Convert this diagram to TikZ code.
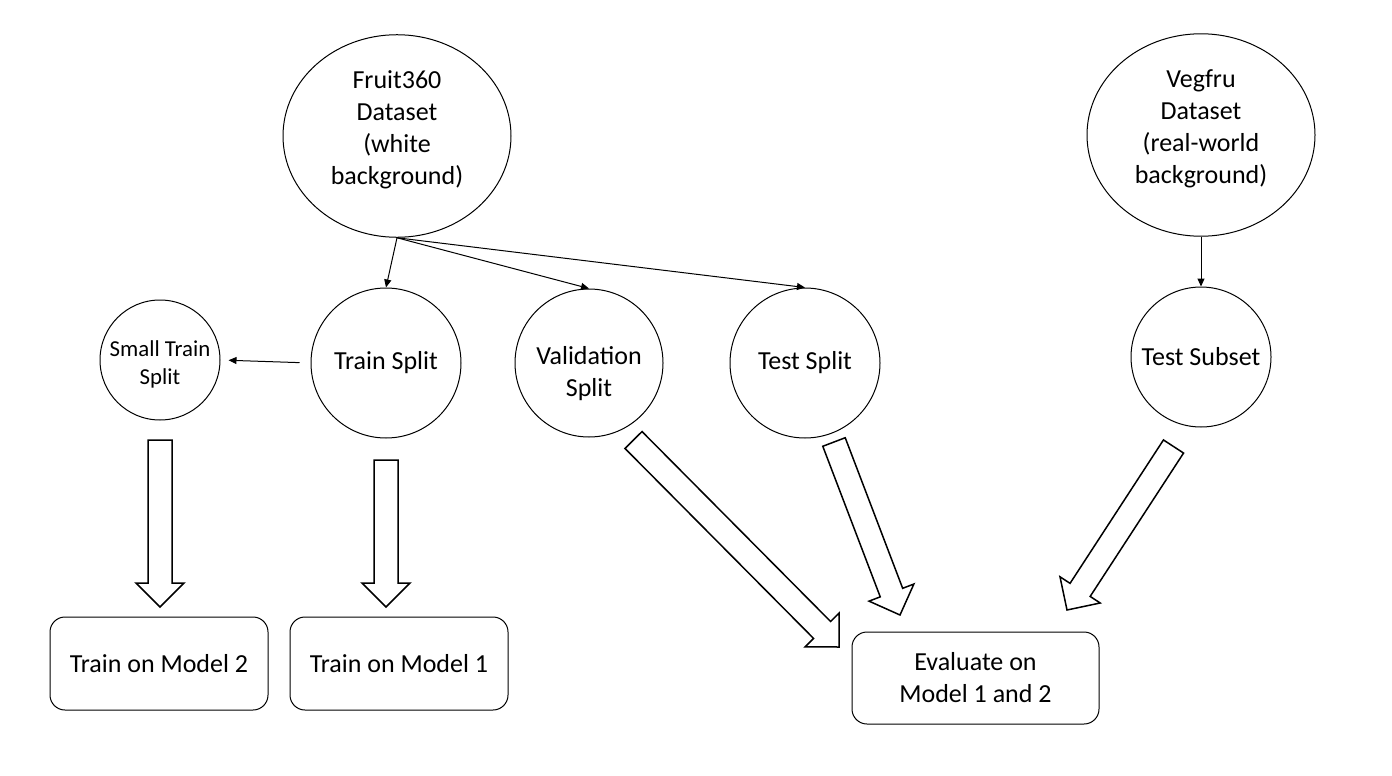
\documentclass[tikz,border=0pt]{standalone}
\usepackage{fontspec}
\setmainfont{Carlito}
\usetikzlibrary{arrows.meta,shapes.geometric,calc,positioning}
\tikzset{
	dataset/.style={
		ellipse,
		draw=black,
		line width=0.5pt,
		fill=white,
		minimum width=114pt,
		minimum height=100pt,
		align=center,
		text depth=8pt,
		font=\fontsize{13}{16}\selectfont
	},
	split/.style={
		circle,
		draw=black,
		line width=0.5pt,
		fill=white,
		inner sep=0pt,
		minimum size=75pt,
		align=center,
		font=\fontsize{13}{16}\selectfont
	},
	task/.style={
		rectangle,
		rounded corners=7.5pt,
		draw=black,
		line width=0.5pt,
		minimum width=109pt,
		minimum height=46.5pt,
		align=center,
		font=\fontsize{13}{16}\selectfont
	},
	arrow/.style={
		draw=black,
		line width=0.5pt,
		-{Triangle[length=4pt,width=3.5pt]}
	},
	blockarrow/.style={
		draw=black,
		line width=0.75pt,
		line join=miter,
		fill=white
	},
}
% hollow block arrow from #1 to the tip #2
\newcommand{\blockarrow}[2]{
	\coordinate (h) at ($(#2)!12pt!(#1)$);
	\draw [blockarrow] ($(#1)!6pt!90:(#2)$) -- ($(h)!6pt!90:(#2)$) -- ($(h)!12pt!90:(#2)$) -- (#2)
		-- ($(h)!12pt!-90:(#2)$) -- ($(h)!6pt!-90:(#2)$) -- ($(#1)!6pt!-90:(#2)$) -- cycle;
}

\begin{document}
\begin{tikzpicture}[x=0.5pt,y=-0.5pt]
		\useasboundingbox (0,0) rectangle (1392,776);
		% datasets
		\node (fruit) [dataset] at (397,136) {Fruit360\\Dataset\\(white\\background)};
		\node (vegfru) [dataset] at (1201,135) {Vegfru\\Dataset\\(real-world\\background)};
		% splits
		\node (small) [split,minimum size=60pt,text height=26pt,font=\fontsize{11.4}{14}\selectfont] at (160,360) {Small Train\\Split};
		\node (train) [split] at (386,363) {Train Split};
		\node (valid) [split,minimum size=74pt,text height=36pt] at (589,363) {Validation\\Split};
		\node (test) [split] at (805,363) {Test Split};
		\node (subset) [split,minimum size=70pt] at (1201,357) {Test Subset};
		% tasks
		\node (model2) [task] at (159,663.5) {Train on Model 2};
		\node (model1) [task] at (399,663.5) {Train on Model 1};
		\node (evaluate) [task,minimum width=123.5pt,minimum height=46pt] at (975.5,678) {Evaluate on\\Model 1 and 2};
		\draw [arrow] (fruit.south) -- (train.north);
		\draw [arrow] (fruit.south) -- (valid.north);
		\draw [arrow] (fruit.south) -- (test.north);
		\draw [arrow] (vegfru.south) -- (subset.north);
		\draw [arrow,shorten <=5.5pt,shorten >=4pt] (train.west) -- (small.east);
		% block arrows
		\coordinate (s1) at (160,440);
		\coordinate (t1) at (160,607);
		\coordinate (s2) at (386,460);
		\coordinate (t2) at (386,607);
		\coordinate (s3) at (633.5,440);
		\coordinate (t3) at (839,647);
		\coordinate (s4) at (834,442);
		\coordinate (t4) at (900,615);
		\coordinate (s5) at (1173.5,446.5);
		\coordinate (t5) at (1067,610);
		\blockarrow{s1}{t1}
		\blockarrow{s2}{t2}
		\blockarrow{s3}{t3}
		\blockarrow{s4}{t4}
		\blockarrow{s5}{t5}
\end{tikzpicture}
\end{document}
